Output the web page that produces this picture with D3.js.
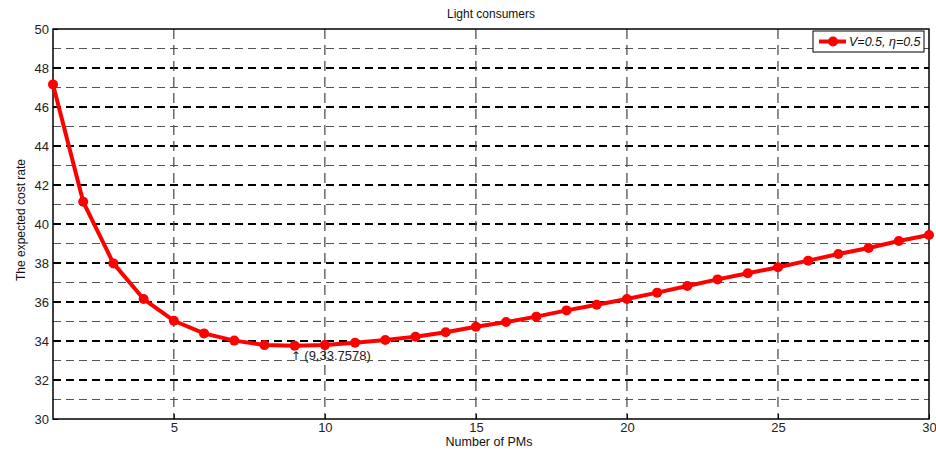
<!DOCTYPE html>
<html><head><meta charset="utf-8">
<script src="https://cdn.jsdelivr.net/npm/d3@7"></script>
<style>body{margin:0;background:#fff;} svg{display:block;font-family:"Liberation Sans",Arial,sans-serif;}</style>
</head><body>
<svg id="c" width="936" height="450"></svg>
<script>
const pms = [1,2,3,4,5,6,7,8,9,10,11,12,13,14,15,16,17,18,19,20,21,22,23,24,25,26,27,28,29,30];
const cost = [47.16,41.14,37.98,36.15,35.04,34.39,34.02,33.79,33.7578,33.79,33.91,34.05,34.22,34.45,34.73,34.97,35.25,35.57,35.86,36.15,36.48,36.82,37.16,37.47,37.78,38.12,38.46,38.77,39.13,39.44];
const xTicks = [5,10,15,20,25,30];
const yTicks = [30,32,34,36,38,40,42,44,46,48,50];
const yMinor = [31,33,35,37,39,41,43,45,47,49];
const seriesName = "V=0.5, \u03b7=0.5";
const title = "Light consumers";
const xLabel = "Number of PMs";
const yLabel = "The expected cost rate";
const annotArrow = "\u2191";
const annot = " (9,33.7578)";

const svg = d3.select("#c");
const L=53, R=929, T=29, B=419;
const x = d3.scaleLinear().domain([1,30]).range([L,R]);
const y = d3.scaleLinear().domain([30,50]).range([B,T]);

const g = svg.append("g");
g.selectAll(".hm").data(yMinor).enter().append("line")
 .attr("x1",L).attr("x2",R).attr("y1",d=>y(d)).attr("y2",d=>y(d))
 .attr("stroke","#555").attr("stroke-width",1.2).attr("stroke-dasharray","8,5");
g.selectAll(".hM").data(yTicks.filter(d=>d>30&&d<50)).enter().append("line")
 .attr("x1",L).attr("x2",R).attr("y1",d=>y(d)).attr("y2",d=>y(d))
 .attr("stroke","#000").attr("stroke-width",2).attr("stroke-dasharray","8,5");
g.selectAll(".v").data(xTicks.filter(d=>d<30)).enter().append("line")
 .attr("x1",d=>x(d)).attr("x2",d=>x(d)).attr("y1",T).attr("y2",B)
 .attr("stroke","#444").attr("stroke-width",1.2).attr("stroke-dasharray","10,6");

const xAxis = d3.axisBottom(x).tickValues(xTicks).tickSize(-5).tickPadding(4);
const yAxis = d3.axisLeft(y).tickValues(yTicks).tickSize(-5).tickPadding(4);
const ax = svg.append("g").attr("transform",`translate(0,${B})`).call(xAxis);
const ay = svg.append("g").attr("transform",`translate(${L},0)`).call(yAxis);
[ax,ay].forEach(a=>{
  a.select(".domain").remove();
  a.selectAll("line").attr("stroke","#000");
  a.selectAll("text").attr("font-size",13).attr("fill","#222").attr("font-family","'Liberation Sans',Arial,sans-serif");
});
svg.append("rect").attr("x",L).attr("y",T).attr("width",R-L).attr("height",B-T)
 .attr("fill","none").attr("stroke","#000").attr("stroke-width",1.5);

const line = d3.line().x((d,i)=>x(pms[i])).y(d=>y(d));
svg.append("path").datum(cost).attr("d",line).attr("fill","none")
 .attr("stroke","#ff0000").attr("stroke-width",4).attr("stroke-linejoin","round");
svg.selectAll(".pt").data(cost).enter().append("circle")
 .attr("cx",(d,i)=>x(pms[i])).attr("cy",d=>y(d)).attr("r",5).attr("fill","#ff0000");

const at = svg.append("text").attr("x",x(9)-4).attr("y",y(33.7578)+14).attr("font-size",13).attr("fill","#222");
at.append("tspan").attr("font-family","'DejaVu Sans',sans-serif").attr("font-size",12).text(annotArrow);
at.append("tspan").text(annot);

const lg = svg.append("g");
lg.append("rect").attr("x",813).attr("y",31).attr("width",111).attr("height",21)
 .attr("fill","#fff").attr("stroke","#000").attr("stroke-width",1);
lg.append("line").attr("x1",819).attr("x2",846).attr("y1",41.5).attr("y2",41.5)
 .attr("stroke","#ff0000").attr("stroke-width",4);
lg.append("circle").attr("cx",833).attr("cy",41.5).attr("r",5).attr("fill","#ff0000");
lg.append("text").attr("x",849).attr("y",46).attr("font-size",12.5).attr("font-style","italic")
 .attr("fill","#111").text(seriesName);

svg.append("text").attr("x",(L+R)/2).attr("y",18).attr("text-anchor","middle")
 .attr("font-size",12).attr("fill","#111").text(title);
svg.append("text").attr("x",(L+R)/2-2).attr("y",446).attr("text-anchor","middle")
 .attr("font-size",12.5).attr("fill","#111").text(xLabel);
svg.append("text").attr("transform",`translate(25,${(T+B)/2-4}) rotate(-90)`).attr("text-anchor","middle")
 .attr("font-size",12).attr("fill","#111").text(yLabel);
</script>
</body></html>
